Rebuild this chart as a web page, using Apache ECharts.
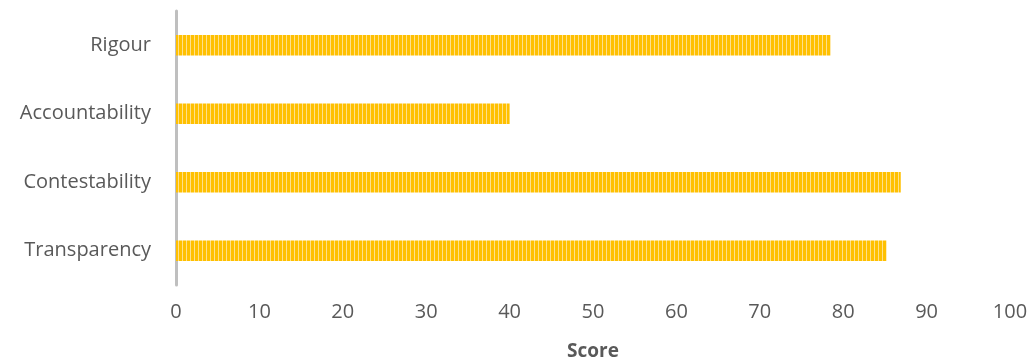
<!DOCTYPE html>
<html>
<head>
<meta charset="utf-8">
<script src="https://cdn.jsdelivr.net/npm/echarts@6/dist/echarts.min.js"></script>
<style>
  html, body { margin: 0; padding: 0; background: #fff; }
  #chart { width: 1035px; height: 363px; }
</style>
</head>
<body>
<div id="chart"></div>
<script>
// categories listed bottom to top
const categories = ['Transparency', 'Contestability', 'Accountability', 'Rigour']
const scores = [85.2, 86.9, 40.0, 78.5]
const xTicks = [0, 10, 20, 30, 40, 50, 60, 70, 80, 90, 100]

// vertical stripe fill like the original
const makeStripes = () => {
  const c = document.createElement('canvas')
  c.width = 4
  c.height = 4
  const ctx = c.getContext('2d')
  ctx.fillStyle = '#FFC000'
  ctx.fillRect(0, 0, 4, 4)
  ctx.fillStyle = '#FFE08A'
  ctx.fillRect(2, 0, 1, 4)
  return c
}

const chart = echarts.init(document.getElementById('chart'))
const font = '"Open Sans", sans-serif'

chart.setOption({
  animation: false,
  grid: { left: 176, right: 25, top: 11, bottom: 78, outerBoundsMode: 'none' },
  xAxis: {
    type: 'value',
    min: xTicks[0],
    max: xTicks[xTicks.length - 1],
    interval: 10,
    name: 'Score',
    nameLocation: 'middle',
    nameGap: 57,
    nameTextStyle: { color: '#595959', fontSize: 19, fontWeight: 'bold', fontFamily: font },
    axisLine: { show: false },
    axisTick: { show: false },
    splitLine: { show: false },
    axisLabel: { color: '#595959', fontSize: 20, fontFamily: font, margin: 17 }
  },
  yAxis: {
    type: 'category',
    data: categories,
    axisLine: { show: true, lineStyle: { color: '#bfbfbf', width: 3 } },
    axisTick: { show: false },
    axisLabel: { color: '#595959', fontSize: 20, fontFamily: font, margin: 25 }
  },
  series: [{
    type: 'bar',
    data: scores,
    barWidth: '30%',
    itemStyle: { color: { image: makeStripes(), repeat: 'repeat' } }
  }]
})
</script>
</body>
</html>
